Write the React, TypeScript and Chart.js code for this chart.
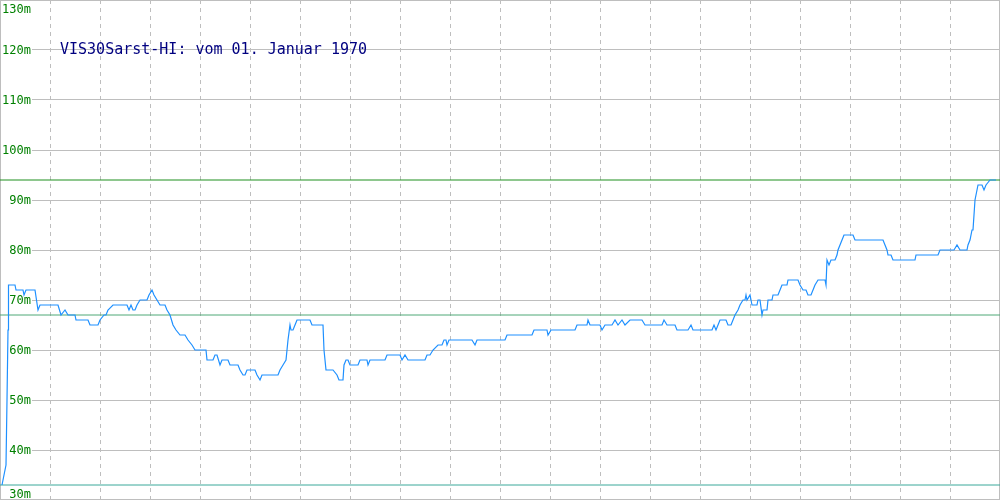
import React, { useEffect, useRef } from "react";
import { Chart, registerables } from "chart.js";

Chart.register(...registerables);

// ---- Data ----
const titleText = "VIS30Sarst-HI: vom 01. Januar 1970";

const yTickValues = [30, 40, 50, 60, 70, 80, 90, 100, 110, 120, 130];
const yTickLabels = yTickValues.map((v) => `${v}m`);

const xMin = 0;
const xMax = 1000;
const xGridStep = 50;

// sample position (time index) and level in metres
const samplePos = [
  2, 4, 6, 7, 8, 8.5, 15, 16, 23, 24, 26, 35, 38, 40, 58, 61, 65, 68, 75, 76,
  88, 90, 98, 100, 104, 106, 108, 113, 127, 129, 131, 133, 135, 137, 140, 147, 149, 152, 154, 157,
  160, 165, 167, 170, 173, 176, 180, 185, 188, 192, 195, 206, 207, 213, 215, 217, 220, 222, 228, 230,
  238, 240, 243, 245, 247, 255, 257, 260, 262, 278, 280, 283, 286, 287, 288, 290, 291, 293, 295, 297,
  310, 312, 323, 324, 326, 333, 337, 339, 343, 344, 346, 348, 350, 358, 360, 367, 368, 370, 385, 387,
  400, 402, 405, 408, 425, 427, 430, 433, 438, 442, 444, 446, 447, 449, 472, 475, 477, 505, 507, 532,
  534, 547, 548, 551, 575, 577, 587, 588, 590, 600, 602, 605, 612, 615, 618, 622, 625, 630, 642, 645,
  662, 664, 667, 675, 677, 688, 691, 693, 712, 714, 716, 718, 720, 726, 728, 731, 733, 735, 738, 740,
  743, 745, 746, 747, 750, 752, 757, 758, 760, 762, 763, 767, 768, 772, 773, 778, 780, 782, 787, 788,
  798, 800, 803, 806, 808, 811, 813, 815, 818, 825, 826, 827, 829, 831, 835, 837, 838, 840, 842, 844,
  853, 855, 857, 883, 885, 887, 888, 891, 893, 915, 916, 938, 940, 954, 957, 960, 967, 968, 970, 972,
  973, 975, 977, 978, 982, 984, 986, 988, 990, 996,
];
const levelM = [
  33, 35, 37, 50, 64, 73, 73, 72, 72, 71, 72, 72, 68, 69, 69, 67, 68, 67, 67, 66,
  66, 65, 65, 66, 67, 67, 68, 69, 69, 68, 69, 68, 68, 69, 70, 70, 71, 72, 71, 70,
  69, 69, 68, 67, 65, 64, 63, 63, 62, 61, 60, 60, 58, 58, 59, 59, 57, 58, 58, 57,
  57, 56, 55, 55, 56, 56, 55, 54, 55, 55, 56, 57, 58, 60, 62, 65, 64, 64, 65, 66,
  66, 65, 65, 60, 56, 56, 55, 54, 54, 57, 58, 58, 57, 57, 58, 58, 57, 58, 58, 59,
  59, 58, 59, 58, 58, 59, 59, 60, 61, 61, 62, 62, 61, 62, 62, 61, 62, 62, 63, 63,
  64, 64, 63, 64, 64, 65, 65, 66, 65, 65, 64, 65, 65, 66, 65, 66, 65, 66, 66, 65,
  65, 66, 65, 65, 64, 64, 65, 64, 64, 65, 64, 65, 66, 66, 65, 65, 66, 67, 68, 69,
  70, 70, 71, 70, 71, 69, 69, 70, 70, 67, 68, 68, 70, 70, 71, 71, 72, 73, 73, 74,
  74, 73, 72, 72, 71, 71, 72, 73, 74, 74, 73, 78, 77, 78, 78, 79, 80, 81, 82, 83,
  83, 82, 82, 82, 81, 80, 79, 79, 78, 78, 79, 79, 80, 80, 81, 80, 80, 81, 82, 84,
  84, 90, 92, 93, 93, 92, 93, 93.5, 94, 94,
];

const maxLevel = 94;
const avgLevel = 67;
const minLevel = 33;

// ---- Styles ----
const lineColor = "#1e90ff";
const maxColor = "#1f8f1f";
const avgColor = "#4ea876";
const minColor = "#3aa89a";
const gridColor = "#bebebe";
const labelColor = "#008000";
const titleColor = "#000080";

const overlayPlugin = {
  id: "overlay",
  beforeDatasetsDraw(chart: any) {
    const { ctx, chartArea } = chart;
    const y = chart.scales.y;
    ctx.save();
    ctx.strokeStyle = gridColor;
    ctx.lineWidth = 1;
    ctx.strokeRect(chartArea.left + 0.5, chartArea.top + 0.5, chartArea.width - 1, chartArea.height - 1);

    ctx.font = '12px "DejaVu Sans Mono"';
    ctx.textAlign = "right";
    ctx.textBaseline = "alphabetic";
    yTickValues.forEach((v, i) => {
      const py = y.getPixelForValue(v);
      if (i > 0 && i < yTickValues.length - 1) {
        ctx.fillStyle = "#ffffff";
        ctx.fillRect(chartArea.left + 1, Math.round(py) - 1, 31, 3);
      }
      const base = Math.min(Math.max(py + 4, chartArea.top + 13), chartArea.bottom - 2);
      ctx.fillStyle = labelColor;
      ctx.fillText(yTickLabels[i], chartArea.left + 31, base);
    });

    ctx.font = '15px "DejaVu Sans Mono"';
    ctx.fillStyle = titleColor;
    ctx.textAlign = "left";
    ctx.fillText(titleText, chartArea.left + 60, chartArea.top + 54);
    ctx.restore();
  },
};

export default function App() {
  const canvasRef = useRef<HTMLCanvasElement | null>(null);

  useEffect(() => {
    document.body.style.margin = "0";
    const canvas = canvasRef.current;
    if (!canvas) return;
    const points = samplePos.map((x, i) => ({ x, y: levelM[i] }));
    const hline = (v: number) => [
      { x: xMin, y: v },
      { x: xMax, y: v },
    ];
    const chart = new Chart(canvas, {
      type: "line",
      data: {
        datasets: [
          {
            data: points,
            borderColor: lineColor,
            borderWidth: 1.2,
            pointRadius: 0,
            tension: 0,
            order: 0,
          },
          { data: hline(maxLevel), borderColor: maxColor, borderWidth: 1, pointRadius: 0, order: 1 },
          { data: hline(avgLevel), borderColor: avgColor, borderWidth: 1, pointRadius: 0, order: 1 },
          { data: hline(minLevel), borderColor: minColor, borderWidth: 1, pointRadius: 0, order: 1 },
        ],
      },
      options: {
        animation: false,
        responsive: false,
        layout: { padding: 0 },
        plugins: { legend: { display: false }, tooltip: { enabled: false }, title: { display: false } },
        scales: {
          x: {
            type: "linear",
            min: xMin,
            max: xMax,
            ticks: { display: false, stepSize: xGridStep },
            grid: { color: gridColor, drawTicks: false, lineWidth: 1 },
            border: { display: false, dash: [4, 4] },
            afterFit: (s: any) => {
              s.height = 0;
            },
          },
          y: {
            min: yTickValues[0],
            max: yTickValues[yTickValues.length - 1],
            ticks: { display: false, stepSize: 10 },
            grid: { color: gridColor, drawTicks: false, lineWidth: 1 },
            border: { display: false },
            afterFit: (s: any) => {
              s.width = 0;
            },
          },
        },
      },
      plugins: [overlayPlugin],
    });
    return () => chart.destroy();
  }, []);

  return (
    <div style={{ width: 1000, height: 500 }}>
      <canvas ref={canvasRef} width={1000} height={500} />
    </div>
  );
}
